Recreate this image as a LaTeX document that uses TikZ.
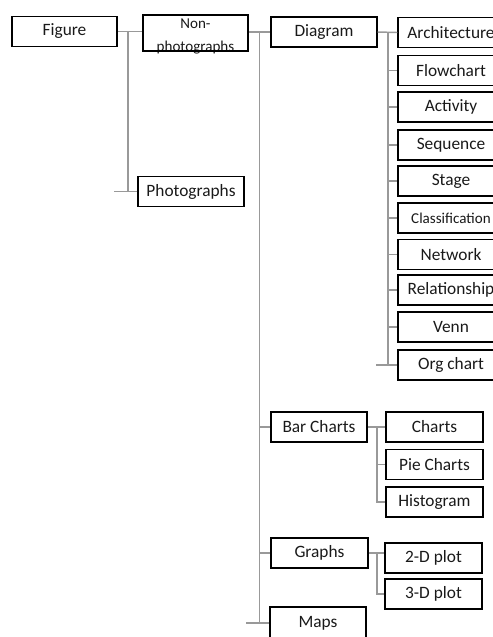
\documentclass[tikz,border=0pt]{standalone}
\usepackage{fontspec}
\setmainfont{Carlito}
\begin{document}
\begin{tikzpicture}[
x=0.75pt, y=-0.75pt,
bx/.style = {draw, line width=1.4pt, inner sep=0pt, minimum height=22.5pt, text=black!90, font=\fontsize{13}{15}\selectfont},
wbx/.style = {bx, minimum width=79pt},
nbx/.style = {bx, minimum width=72.5pt},
lbl/.style = {inner sep=0pt, anchor=base, text=black!90, font=\fontsize{11.3}{13}\selectfont},
conn/.style = {draw=gray!80, line width=1.1pt}
]
  \useasboundingbox (0,0) rectangle (493,637);

  % level 1
  \node[wbx] (fig) at (64.5,31.5) {Figure};
  \node[lbl] (nontxt) at (195.5,28) {Non-};
  \node[lbl] (phototxt) at (195.5,51.5) {photographs};
  \node[wbx, minimum height=27pt] (nonphoto) at (195.5,33) {};
  \node[wbx] (photo) at (191,191.5) {Photographs};

  % level 2
  \node[wbx] (diagram) at (324,32) {Diagram};
  \node[nbx] (barcharts) at (319,427) {Bar Charts};
  \node[nbx] (graphs) at (319.5,553) {Graphs};
  \node[nbx, minimum height=24pt] (maps) at (318,623) {Maps};

  % diagram kinds
  \node[wbx] (arch) at (451,32.5) {Architecture};
  \node[wbx] (flow) at (451,70.5) {Flowchart};
  \node[wbx] (activity) at (451,107) {Activity};
  \node[wbx] (sequence) at (451,145) {Sequence};
  \node[wbx] (stage) at (451,181) {Stage};
  \node[wbx, font=\fontsize{11.3}{13}\selectfont] (classif) at (451,218) {Classification};
  \node[wbx] (network) at (451,254.5) {Network};
  \node[wbx] (relation) at (451,290) {Relationship};
  \node[wbx] (venn) at (451,327) {Venn};
  \node[wbx] (orgchart) at (451,365) {Org chart};

  % chart kinds
  \node[nbx] (charts) at (434.5,427) {Charts};
  \node[nbx] (pie) at (434.5,464.5) {Pie Charts};
  \node[nbx] (histo) at (434.5,502) {Histogram};
  \node[nbx] (plot2d) at (433.5,558) {2-D plot};
  \node[nbx] (plot3d) at (433.5,594) {3-D plot};

  % connectors
  \coordinate (jfig) at (128,31.5);
  \draw[conn] (fig.east) -- (nonphoto.west |- fig.east);
  \draw[conn] (jfig) |- (photo.west);
  \draw[conn] (photo.west) -- ++(-23,0);

  \coordinate (jnon) at (259.5,32);
  \draw[conn] (nonphoto.east |- jnon) -- (diagram.west);
  \draw[conn] (jnon) |- (maps.west);
  \draw[conn] (maps.west) -- ++(-23,0);
  \draw[conn] (jnon |- barcharts.west) -- (barcharts.west);
  \draw[conn] (jnon |- graphs.west) -- (graphs.west);

  \coordinate (jdia) at (388,32);
  \draw[conn] (diagram.east) -- (arch.west);
  \draw[conn] (jdia) |- (orgchart.west);
  \draw[conn] (orgchart.west) -- ++(-21,0);
  \foreach \k in {flow,activity,sequence,stage,classif,network,relation,venn}
    \draw[conn] (jdia |- \k.west) -- (\k.west);

  \coordinate (jbar) at (377,427);
  \draw[conn] (barcharts.east) -- (charts.west);
  \draw[conn] (jbar) |- (histo.west);
  \draw[conn] (jbar |- pie.west) -- (pie.west);

  \coordinate (jgra) at (377,553);
  \draw[conn] (graphs.east) -- (graphs.east -| plot2d.west);
  \draw[conn] (jgra) |- (plot3d.west);
\end{tikzpicture}
\end{document}
